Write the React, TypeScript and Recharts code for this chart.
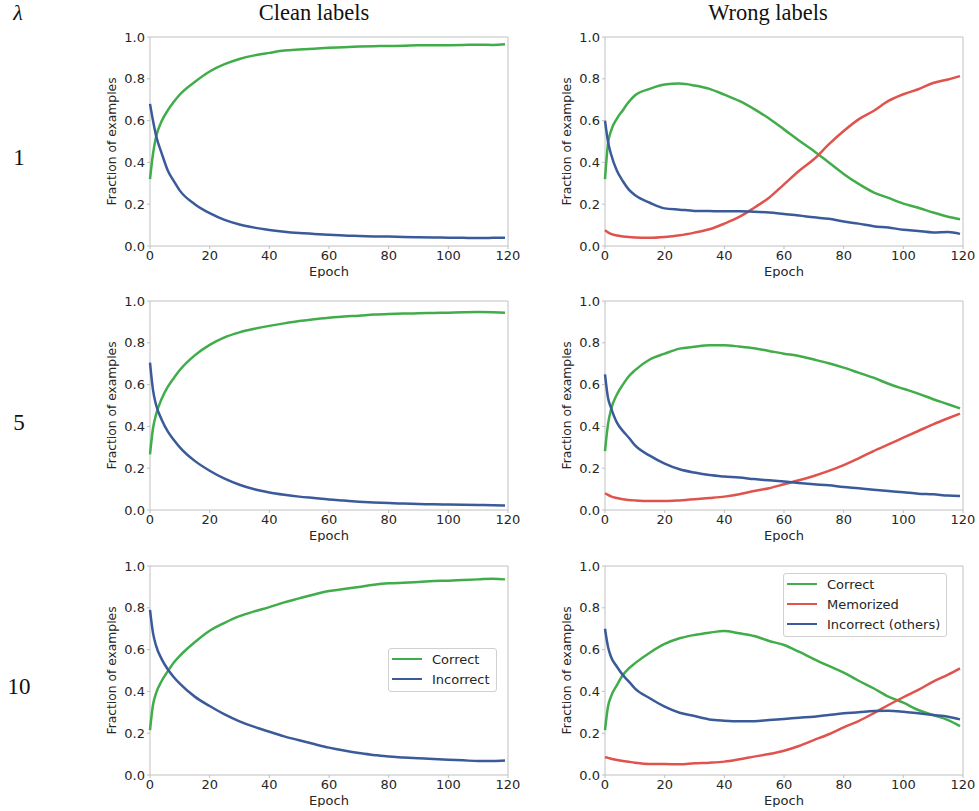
import { LineChart, Line, XAxis, YAxis, ReferenceArea, Legend } from 'recharts';

const EPOCHS = [0, 1, 2, 4, 6, 8, 10, 15, 20, 25, 30, 35, 40, 45, 50, 55, 60, 65, 70, 75, 80, 85, 90, 95, 100, 105, 110, 115, 119];
const X_TICKS = [0, 20, 40, 60, 80, 100, 120];
const Y_TICKS = [0, 0.2, 0.4, 0.6, 0.8, 1.0];
const COLUMN_TITLES = ['Clean labels', 'Wrong labels'];
const LAMBDAS = ['1', '5', '10'];

// lambda = 1
const clean1Correct = [0.32, 0.44, 0.52, 0.6, 0.65, 0.69, 0.725, 0.785, 0.835, 0.87, 0.895, 0.912, 0.924, 0.935, 0.94, 0.944, 0.948, 0.951, 0.954, 0.956, 0.957, 0.958, 0.96, 0.96, 0.961, 0.962, 0.963, 0.962, 0.965];
const clean1Incorrect = [0.68, 0.6, 0.53, 0.44, 0.36, 0.31, 0.265, 0.2, 0.157, 0.125, 0.103, 0.088, 0.077, 0.068, 0.062, 0.058, 0.054, 0.05, 0.048, 0.046, 0.045, 0.043, 0.042, 0.041, 0.04, 0.039, 0.038, 0.039, 0.04];
const wrong1Correct = [0.32, 0.49, 0.55, 0.61, 0.65, 0.69, 0.72, 0.752, 0.773, 0.777, 0.768, 0.752, 0.724, 0.694, 0.655, 0.61, 0.558, 0.505, 0.455, 0.4, 0.345, 0.297, 0.257, 0.23, 0.203, 0.183, 0.16, 0.14, 0.128];
const wrong1Memorized = [0.075, 0.065, 0.058, 0.05, 0.046, 0.043, 0.041, 0.039, 0.043, 0.051, 0.064, 0.08, 0.107, 0.139, 0.183, 0.231, 0.295, 0.359, 0.415, 0.486, 0.55, 0.606, 0.646, 0.694, 0.726, 0.75, 0.78, 0.797, 0.813];
const wrong1Others = [0.6, 0.5, 0.44, 0.36, 0.31, 0.27, 0.244, 0.207, 0.18, 0.174, 0.168, 0.167, 0.166, 0.166, 0.164, 0.16, 0.153, 0.146, 0.137, 0.13, 0.117, 0.107, 0.095, 0.088, 0.078, 0.072, 0.065, 0.067, 0.058];

// lambda = 5
const clean5Correct = [0.266, 0.39, 0.455, 0.535, 0.59, 0.632, 0.67, 0.74, 0.79, 0.826, 0.85, 0.867, 0.881, 0.893, 0.904, 0.913, 0.92, 0.926, 0.93, 0.935, 0.938, 0.94, 0.941, 0.943, 0.944, 0.946, 0.947, 0.946, 0.944];
const clean5Incorrect = [0.705, 0.575, 0.505, 0.43, 0.375, 0.335, 0.3, 0.235, 0.188, 0.15, 0.121, 0.099, 0.084, 0.073, 0.064, 0.057, 0.05, 0.045, 0.04, 0.036, 0.033, 0.031, 0.029, 0.027, 0.026, 0.025, 0.024, 0.023, 0.022];
const wrong5Correct = [0.282, 0.41, 0.48, 0.553, 0.6, 0.64, 0.668, 0.72, 0.748, 0.772, 0.781, 0.788, 0.788, 0.782, 0.774, 0.761, 0.748, 0.737, 0.72, 0.702, 0.681, 0.657, 0.633, 0.604, 0.58, 0.557, 0.53, 0.506, 0.486];
const wrong5Memorized = [0.08, 0.072, 0.065, 0.057, 0.051, 0.048, 0.046, 0.043, 0.043, 0.046, 0.051, 0.057, 0.064, 0.075, 0.091, 0.104, 0.123, 0.142, 0.163, 0.187, 0.215, 0.247, 0.282, 0.314, 0.346, 0.378, 0.41, 0.439, 0.461];
const wrong5Others = [0.649, 0.537, 0.49, 0.418, 0.378, 0.346, 0.31, 0.26, 0.222, 0.195, 0.179, 0.167, 0.16, 0.155, 0.148, 0.142, 0.136, 0.129, 0.123, 0.118, 0.11, 0.104, 0.097, 0.091, 0.085, 0.078, 0.075, 0.069, 0.067];

// lambda = 10
const clean10Correct = [0.215, 0.335, 0.39, 0.452, 0.497, 0.538, 0.57, 0.635, 0.69, 0.728, 0.76, 0.783, 0.803, 0.826, 0.845, 0.864, 0.88, 0.89, 0.9, 0.91, 0.917, 0.92, 0.923, 0.928, 0.93, 0.933, 0.936, 0.939, 0.936];
const clean10Incorrect = [0.79, 0.68, 0.62, 0.552, 0.505, 0.468, 0.437, 0.375, 0.33, 0.29, 0.257, 0.23, 0.207, 0.185, 0.166, 0.148, 0.131, 0.117, 0.105, 0.096, 0.088, 0.084, 0.08, 0.076, 0.073, 0.07, 0.067, 0.067, 0.069];
const wrong10Correct = [0.215, 0.327, 0.375, 0.43, 0.478, 0.51, 0.534, 0.585, 0.627, 0.654, 0.67, 0.681, 0.689, 0.678, 0.665, 0.641, 0.622, 0.59, 0.555, 0.522, 0.49, 0.451, 0.415, 0.375, 0.346, 0.311, 0.287, 0.263, 0.234];
const wrong10Memorized = [0.085, 0.082, 0.078, 0.072, 0.067, 0.063, 0.059, 0.053, 0.053, 0.051, 0.056, 0.059, 0.064, 0.075, 0.088, 0.1, 0.116, 0.139, 0.167, 0.195, 0.228, 0.258, 0.295, 0.335, 0.372, 0.407, 0.447, 0.48, 0.51];
const wrong10Others = [0.7, 0.614, 0.566, 0.518, 0.478, 0.447, 0.415, 0.367, 0.327, 0.298, 0.282, 0.266, 0.26, 0.257, 0.257, 0.263, 0.268, 0.274, 0.279, 0.287, 0.295, 0.3, 0.306, 0.308, 0.303, 0.295, 0.287, 0.279, 0.266];

const GREEN = '#40ad4a';
const RED = '#e0534d';
const BLUE = '#3b5a9a';
const FRAME = '#c0c0c0';
const INK = '#262626';
const SANS = '"DejaVu Sans", sans-serif';
const SERIF = '"Liberation Serif", "Times New Roman", serif';

const PLOT_W = 358;
const PLOT_H = 209;
const COL_LEFT = [150, 605];
const ROW_TOP = [37, 301, 566];

const build = (cols: Record<string, number[]>) =>
  EPOCHS.map((epoch, i) => {
    const row: Record<string, number> = { epoch };
    Object.keys(cols).forEach((k) => (row[k] = cols[k][i]));
    return row;
  });

const cleanSeries = [
  { key: 'correct', name: 'Correct', color: GREEN },
  { key: 'incorrect', name: 'Incorrect', color: BLUE },
];
const wrongSeries = [
  { key: 'correct', name: 'Correct', color: GREEN },
  { key: 'memorized', name: 'Memorized', color: RED },
  { key: 'incorrect', name: 'Incorrect (others)', color: BLUE },
];

const panels = [
  { row: 0, col: 0, series: cleanSeries, data: build({ correct: clean1Correct, incorrect: clean1Incorrect }) },
  { row: 0, col: 1, series: wrongSeries, data: build({ correct: wrong1Correct, memorized: wrong1Memorized, incorrect: wrong1Others }) },
  { row: 1, col: 0, series: cleanSeries, data: build({ correct: clean5Correct, incorrect: clean5Incorrect }) },
  { row: 1, col: 1, series: wrongSeries, data: build({ correct: wrong5Correct, memorized: wrong5Memorized, incorrect: wrong5Others }) },
  { row: 2, col: 0, series: cleanSeries, data: build({ correct: clean10Correct, incorrect: clean10Incorrect }), legend: { left: 298, top: 92 } },
  { row: 2, col: 1, series: wrongSeries, data: build({ correct: wrong10Correct, memorized: wrong10Memorized, incorrect: wrong10Others }), legend: { left: 238, top: 17 } },
];

// Legend keeps the plotting order (recharts sorts entries by name otherwise).
// eslint-disable-next-line @typescript-eslint/no-explicit-any
function LegendBox({ payload, order }: any) {
  const items = [...(payload ?? [])].sort(
    (a: { value: string }, b: { value: string }) => order.indexOf(a.value) - order.indexOf(b.value),
  );
  return (
    <div
      style={{
        background: '#fff',
        border: '1px solid #d0d0d0',
        borderRadius: 3,
        padding: '0 6px 2px 3px',
        fontFamily: SANS,
        fontSize: 13,
        color: INK,
      }}
    >
      {items.map((p: { value: string; color: string }) => (
        <div key={p.value} style={{ display: 'flex', alignItems: 'center', height: 20 }}>
          <span style={{ display: 'inline-block', width: 30, height: 0, borderTop: `2.5px solid ${p.color}`, marginRight: 10 }} />
          <span>{p.value}</span>
        </div>
      ))}
    </div>
  );
}

// eslint-disable-next-line @typescript-eslint/no-explicit-any
function Panel({ left, top, data, series, legend }: any) {
  const ML = 60;
  const MT = 10;
  const MR = 12;
  const XH = 32;
  return (
    <div style={{ position: 'absolute', left: left - ML, top: top - MT }}>
      <LineChart
        width={ML + PLOT_W + MR}
        height={MT + PLOT_H + XH}
        data={data}
        margin={{ top: MT, right: MR, bottom: 0, left: 10 }}
      >
        <ReferenceArea x1={0} x2={120} y1={0} y2={1} fill="none" stroke={FRAME} strokeWidth={1} ifOverflow="visible" />
        <XAxis
          dataKey="epoch"
          type="number"
          domain={[0, 120]}
          ticks={X_TICKS}
          interval={0}
          height={XH}
          axisLine={false}
          tickLine={{ stroke: FRAME }}
          tickSize={3}
          tickMargin={2}
          tick={{ fill: INK, fontSize: 13, fontFamily: SANS }}
          label={{ value: 'Epoch', position: 'insideBottom', offset: 2, fill: INK, fontSize: 13, fontFamily: SANS }}
        />
        <YAxis
          type="number"
          domain={[0, 1]}
          ticks={Y_TICKS}
          interval={0}
          width={50}
          axisLine={false}
          tickLine={{ stroke: FRAME }}
          tickSize={3}
          tickMargin={2}
          tickFormatter={(v: number) => v.toFixed(1)}
          tick={{ fill: INK, fontSize: 13, fontFamily: SANS }}
          label={{
            value: 'Fraction of examples',
            angle: -90,
            position: 'insideLeft',
            offset: 12,
            fill: INK,
            fontSize: 12.3,
            fontFamily: SANS,
            style: { textAnchor: 'middle' },
          }}
        />
        {series.map((s: { key: string; name: string; color: string }) => (
          <Line
            key={s.key}
            dataKey={s.key}
            name={s.name}
            type="monotone"
            stroke={s.color}
            strokeWidth={2.5}
            dot={false}
            activeDot={false}
            isAnimationActive={false}
          />
        ))}
        {legend && (
          <Legend
            layout="horizontal"
            verticalAlign="middle"
            align="center"
            content={<LegendBox order={series.map((s: { name: string }) => s.name)} />}
            wrapperStyle={{ left: legend.left, top: legend.top, width: 'auto' }}
          />
        )}
      </LineChart>
    </div>
  );
}

export default function App() {
  return (
    <div style={{ position: 'absolute', left: 0, top: 0, width: 979, height: 811, background: '#fff' }}>
      <svg width={979} height={811} style={{ position: 'absolute', left: 0, top: 0 }}>
        <text x={18} y={20} fontFamily={SERIF} fontStyle="italic" fontSize={22} textAnchor="middle" fill="#111">
          λ
        </text>
        {COLUMN_TITLES.map((t, i) => (
          <text key={t} x={[314, 768][i]} y={20} fontFamily={SERIF} fontSize={22.5} textAnchor="middle" fill="#111">
            {t}
          </text>
        ))}
        {LAMBDAS.map((l, i) => (
          <text key={l} x={19} y={[165, 430, 694][i]} fontFamily={SERIF} fontSize={23} textAnchor="middle" fill="#111">
            {l}
          </text>
        ))}
      </svg>
      {panels.map((p, i) => (
        <Panel
          key={i}
          left={COL_LEFT[p.col]}
          top={ROW_TOP[p.row]}
          data={p.data}
          series={p.series}
          legend={p.legend}
        />
      ))}
    </div>
  );
}
